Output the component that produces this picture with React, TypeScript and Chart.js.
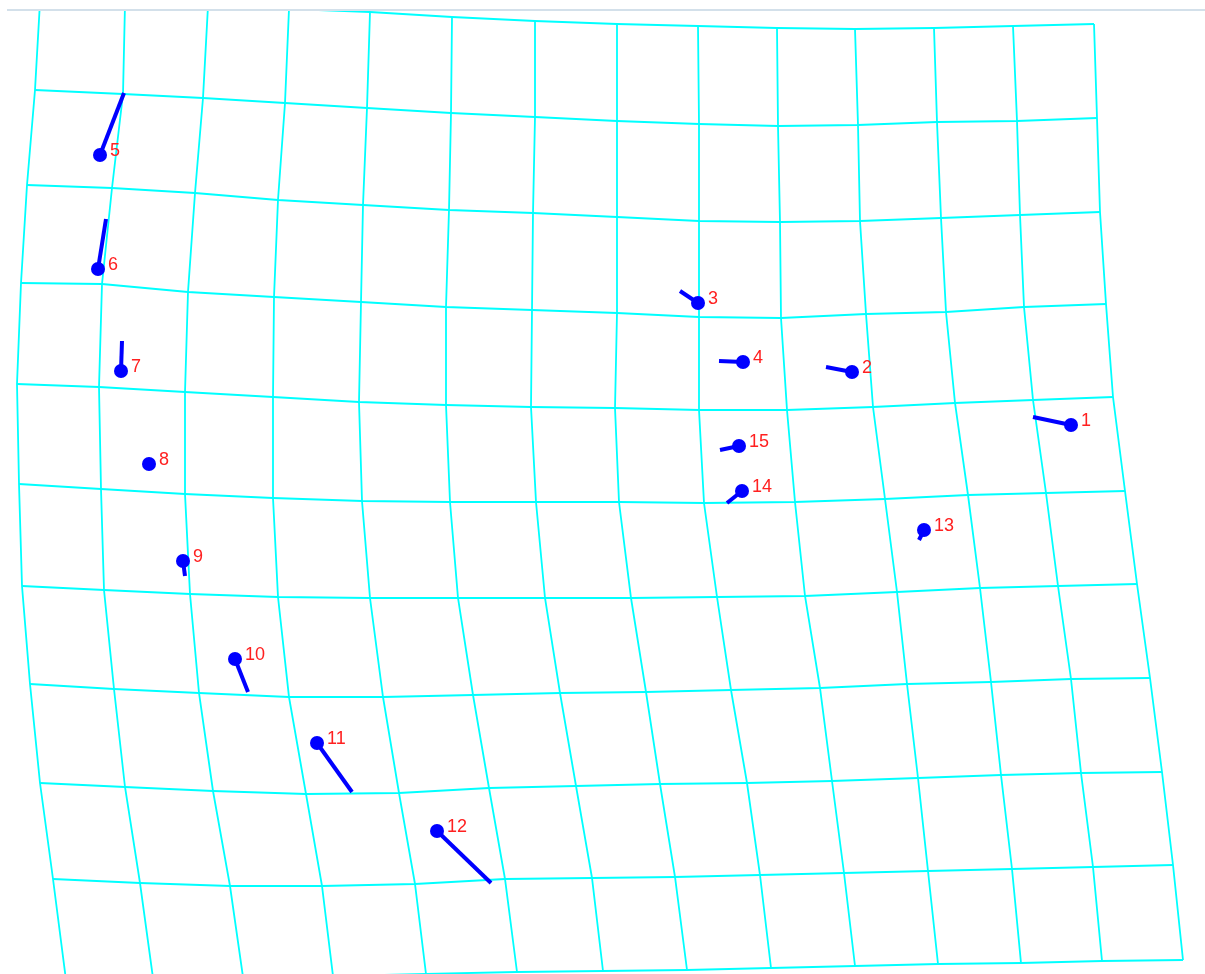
import React, { useEffect, useRef } from "react";
import { Chart, registerables } from "chart.js";

Chart.register(...registerables);

// Deformed survey mesh: node coordinates, one row of nodes per array entry (top to bottom).
const meshX: number[][] = [
  [40, 125, 208, 289, 370, 452, 535, 617, 698, 777, 855, 934, 1013, 1094],
  [35, 123, 203, 285, 367, 451, 535, 617, 699, 778, 858, 937, 1017, 1097],
  [27, 112, 195, 278, 363, 449, 533, 617, 699, 780, 860, 941, 1020, 1100],
  [21, 102, 188, 274, 361, 446, 532, 617, 699, 781, 866, 946, 1024, 1106],
  [17, 99, 185, 273, 359, 446, 531, 615, 699, 787, 873, 955, 1033, 1113],
  [19, 101, 185, 273, 362, 450, 536, 619, 704, 795, 885, 968, 1046, 1125],
  [22, 104, 190, 278, 370, 458, 545, 631, 717, 805, 897, 980, 1058, 1137],
  [30, 114, 199, 289, 383, 473, 560, 646, 731, 820, 907, 991, 1071, 1150],
  [40, 125, 213, 306, 399, 489, 576, 660, 747, 832, 918, 1001, 1081, 1162],
  [53, 140, 230, 322, 415, 505, 592, 675, 760, 844, 928, 1012, 1093, 1173],
  [66, 153, 243, 333, 426, 517, 603, 687, 771, 855, 938, 1021, 1102, 1183],
];
const meshY: number[][] = [
  [2, 4, 6, 9, 12, 17, 21, 24, 26, 28, 29, 28, 26, 24],
  [90, 94, 98, 103, 108, 113, 117, 121, 124, 126, 125, 122, 121, 118],
  [185, 188, 193, 200, 205, 210, 213, 217, 221, 222, 221, 218, 215, 212],
  [283, 284, 292, 297, 302, 307, 310, 313, 317, 318, 314, 312, 307, 304],
  [384, 387, 392, 397, 402, 405, 407, 408, 410, 410, 407, 403, 400, 397],
  [484, 489, 494, 498, 501, 502, 502, 502, 503, 502, 499, 495, 493, 491],
  [586, 590, 594, 597, 598, 598, 598, 598, 597, 596, 592, 588, 586, 584],
  [684, 689, 693, 697, 697, 695, 693, 692, 690, 688, 684, 682, 679, 678],
  [783, 787, 791, 794, 793, 788, 786, 784, 783, 781, 778, 775, 773, 772],
  [879, 883, 886, 886, 884, 879, 878, 877, 875, 873, 871, 869, 867, 865],
  [980, 978, 977, 976, 974, 972, 971, 970, 968, 966, 964, 963, 961, 960],
];

// Stations and their displacement vectors
const stationIds = ["1", "2", "3", "4", "5", "6", "7", "8", "9", "10", "11", "12", "13", "14", "15"];
const stationX = [1071, 852, 698, 743, 100, 98, 121, 149, 183, 235, 317, 437, 924, 742, 739];
const stationY = [425, 372, 303, 362, 155, 269, 371, 464, 561, 659, 743, 831, 530, 491, 446];
const vectorDX = [-38, -26, -18, -24, 24, 8, 1, -1, 2, 13, 35, 54, -5, -15, -19];
const vectorDY = [-8, -5, -12, -1, -62, -50, -30, -6, 15, 33, 49, 52, 10, 12, 4];

const MESH_COLOR = "#00ffff";
const MARK_COLOR = "#0000ff";
const LABEL_COLOR = "#ff2020";

const stationLabels = {
  id: "stationLabels",
  afterDatasetsDraw(chart: any) {
    const { ctx, scales } = chart;
    ctx.save();
    ctx.fillStyle = LABEL_COLOR;
    ctx.font = '18px "Liberation Sans", Arial, sans-serif';
    ctx.textAlign = "left";
    ctx.textBaseline = "alphabetic";
    stationIds.forEach((id, i) => {
      const px = scales.x.getPixelForValue(stationX[i]);
      const py = scales.y.getPixelForValue(stationY[i]);
      ctx.fillText(id, px + 10, py + 1);
    });
    ctx.restore();
  },
};

export default function App() {
  const canvasRef = useRef<HTMLCanvasElement>(null);

  useEffect(() => {
    if (!canvasRef.current) return;
    const datasets: any[] = [];

    // Mesh rows
    meshX.forEach((row, r) => {
      datasets.push({
        type: "line",
        data: row.map((x, c) => ({ x, y: meshY[r][c] })),
        borderColor: MESH_COLOR,
        borderWidth: 1.8,
        pointRadius: 0,
        fill: false,
        tension: 0,
        clip: 0,
        order: 3,
      });
    });
    // Mesh columns
    meshX[0].forEach((_, c) => {
      datasets.push({
        type: "line",
        data: meshX.map((row, r) => ({ x: row[c], y: meshY[r][c] })),
        borderColor: MESH_COLOR,
        borderWidth: 1.8,
        pointRadius: 0,
        fill: false,
        tension: 0,
        clip: 0,
        order: 3,
      });
    });
    // Displacement vectors
    stationIds.forEach((_, i) => {
      datasets.push({
        type: "line",
        data: [
          { x: stationX[i], y: stationY[i] },
          { x: stationX[i] + vectorDX[i], y: stationY[i] + vectorDY[i] },
        ],
        borderColor: MARK_COLOR,
        borderWidth: 4,
        borderCapStyle: "butt",
        pointRadius: 0,
        fill: false,
        clip: 0,
        order: 2,
      });
    });
    // Stations
    datasets.push({
      type: "scatter",
      data: stationIds.map((_, i) => ({ x: stationX[i], y: stationY[i] })),
      backgroundColor: MARK_COLOR,
      borderColor: MARK_COLOR,
      borderWidth: 0,
      pointRadius: 7,
      clip: 0,
      order: 1,
    });

    const chart = new Chart(canvasRef.current, {
      type: "scatter",
      data: { datasets },
      options: {
        animation: false,
        responsive: false,
        layout: { padding: 0, autoPadding: false },
        plugins: { legend: { display: false }, tooltip: { enabled: false } },
        scales: {
          x: { type: "linear", min: 0, max: 1205, display: false },
          y: { type: "linear", min: 11, max: 974, reverse: true, display: false },
        },
      },
      plugins: [stationLabels],
    });
    return () => chart.destroy();
  }, []);

  return (
    <div style={{ position: "absolute", left: 0, top: 0, width: 1205, height: 974, background: "#fff" }}>
      <div
        style={{
          position: "absolute",
          left: 7,
          right: 0,
          top: 9,
          height: 0,
          borderTop: "2px solid #d3e0ea",
        }}
      />
      <canvas
        ref={canvasRef}
        width={1205}
        height={963}
        style={{ position: "absolute", left: 0, top: 11, width: 1205, height: 963 }}
      />
    </div>
  );
}
